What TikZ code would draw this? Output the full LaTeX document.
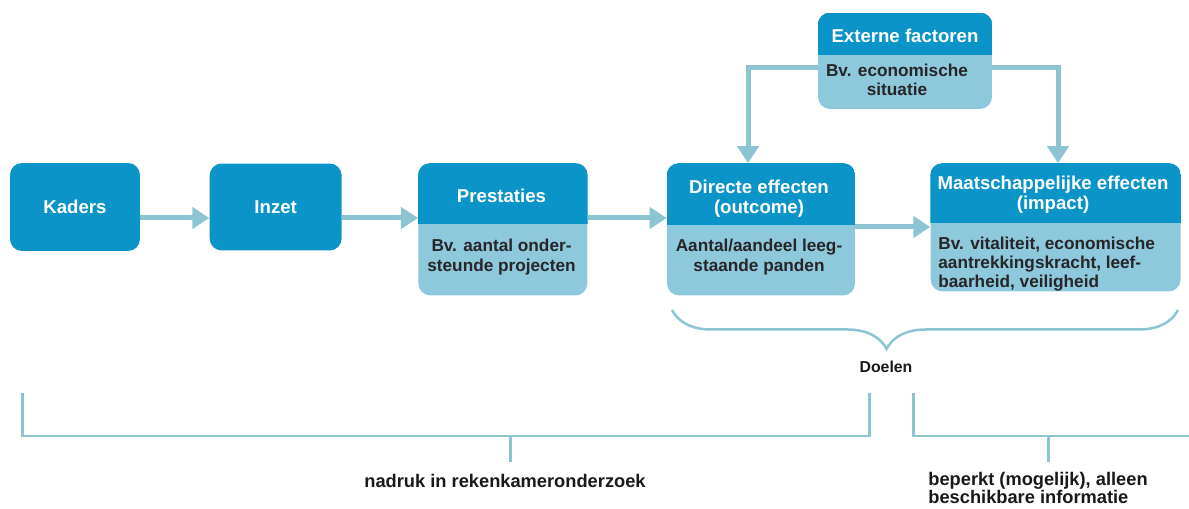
\documentclass[tikz,border=0pt]{standalone}
\usepackage{fontspec}
\setmainfont{Liberation Sans}
\usetikzlibrary{%
    positioning,
    arrows.meta,
    decorations.pathreplacing
}
\definecolor{hdblue}{RGB}{10,148,200}
\definecolor{bdblue}{RGB}{142,200,220}
\definecolor{lnblue}{RGB}{140,196,212}
\newcommand\hdfont{\fontsize{10.6pt}{11.4pt}\selectfont\bfseries}
\newcommand\bdfont{\fontsize{9.8pt}{11pt}\selectfont\bfseries}
\newcommand\lbfont{\fontsize{10.4pt}{10.7pt}\selectfont\bfseries}
\newcommand\hdband[2]{%
    \begin{scope}
        \clip[rounded corners=0.24cm] (#1.south west) rectangle (#1.north east);
        \fill[hdblue] (#1.north west) rectangle ([yshift=-#2]#1.north east);
    \end{scope}
}
\tikzset{
    box/.style = {
        rectangle, fill=bdblue,
        rounded corners=0.24cm, inner sep=0pt
    },
    darkbox/.style = {box, fill=hdblue, text=white, font=\hdfont},
    hdtext/.style = {text=white, font=\hdfont, align=center, inner sep=0pt},
    bdtext/.style = {text=black!85, font=\bdfont, align=center, inner sep=0pt},
    lbtext/.style = {text=black!90, font=\lbfont, align=left, inner sep=0pt},
    conn/.style = {
        draw=lnblue, line width=0.1cm,
        -{Triangle[width=0.42cm, length=0.34cm]}
    },
    bline/.style = {draw=lnblue, line width=0.06cm},
}

\begin{document}
\begin{tikzpicture}[x=0.02cm, y=-0.02cm]
    \useasboundingbox (0,0) rectangle (1189,509);

    % chain of boxes
    \node[
        darkbox,
        minimum width = 2.6cm,
        minimum height = 1.76cm
    ] (kaders) at (75, 207) {Kaders};
    \node[
        darkbox,
        minimum width = 2.64cm,
        minimum height = 1.74cm,
        right=1.38cm of kaders
    ] (inzet) {Inzet};
    \node[
        box,
        minimum width = 3.38cm,
        minimum height = 2.64cm,
        right=1.52cm of inzet.north east,
        anchor=north west
    ] (prest) {};
    \node[
        box,
        minimum width = 3.76cm,
        minimum height = 2.64cm,
        right=1.58cm of prest.north east,
        anchor=north west
    ] (direct) {};
    \node[
        box,
        minimum width = 5cm,
        minimum height = 2.56cm,
        right=1.5cm of direct.north east,
        anchor=north west
    ] (maats) {};
    \node[
        box,
        minimum width = 3.48cm,
        minimum height = 1.92cm
    ] (extern) at (905, 61) {};

    \hdband{prest}{1.22cm}
    \hdband{direct}{1.24cm}
    \hdband{maats}{1.2cm}
    \hdband{extern}{0.84cm}

    % texts in the boxes
    \node[hdtext] (prestHd) at (501.5, 196) {Prestaties};
    \node[bdtext] (prestBd) at (501.5, 257) {Bv. aantal onder-\\steunde projecten};
    \node[hdtext] (directHd) at (759, 199) {Directe effecten\\(outcome)};
    \node[bdtext] (directBd) at (759, 257) {Aantal/aandeel leeg-\\staande panden};
    \node[hdtext] (maatsHd) at (1053, 195) {Maatschappelijke effecten\\(impact)};
    \node[bdtext, align=left, anchor=west] (maatsBd) at (938, 264)
        {Bv. vitaliteit, economische\\aantrekkingskracht, leef-\\baarheid, veiligheid};
    \node[hdtext] (externHd) at (905, 36) {Externe factoren};
    \node[bdtext] (externBd) at (897, 80) {Bv. economische\\situatie};

    % arrows
    \coordinate (rowA) at (0, 218);
    \coordinate (rowB) at (0, 227);
    \coordinate (extRow) at (0, 68);
    \coordinate (dropL) at (748, 0);
    \coordinate (dropR) at (1058, 0);
    \draw[conn] (kaders.east |- rowA) -- (inzet.west |- rowA);
    \draw[conn] (inzet.east |- rowA) -- (prest.west |- rowA);
    \draw[conn] (prest.east |- rowA) -- (direct.west |- rowA);
    \draw[conn] (direct.east |- rowB) -- (maats.west |- rowB);
    \draw[conn] (extern.west |- extRow) -| (dropL |- direct.north);
    \draw[conn] (extern.east |- extRow) -| (dropR |- maats.north);

    % brace and brackets
    \draw[
        bline,
        line width=0.05cm,
        decorate,
        decoration={brace, mirror, amplitude=0.78cm, aspect=0.424}
    ] (672, 310) -- (1178, 310);
    \node[lbtext, font=\fontsize{9pt}{10pt}\selectfont\bfseries] (doelen) at (886, 367) {Doelen};

    \draw[bline] (22, 393) |- (869, 436) -- (869, 393);
    \draw[bline] (913, 393) |- (1189, 436);
    \draw[bline] (510, 436) -- (510, 462);
    \draw[bline] (1048, 436) -- (1048, 462);
    \node[lbtext] (nadruk) at (505, 481) {nadruk in rekenkameronderzoek};
    \node[lbtext, anchor=west] (beperkt) at (928, 488)
        {beperkt (mogelijk), alleen\\beschikbare informatie};
\end{tikzpicture}
\end{document}
